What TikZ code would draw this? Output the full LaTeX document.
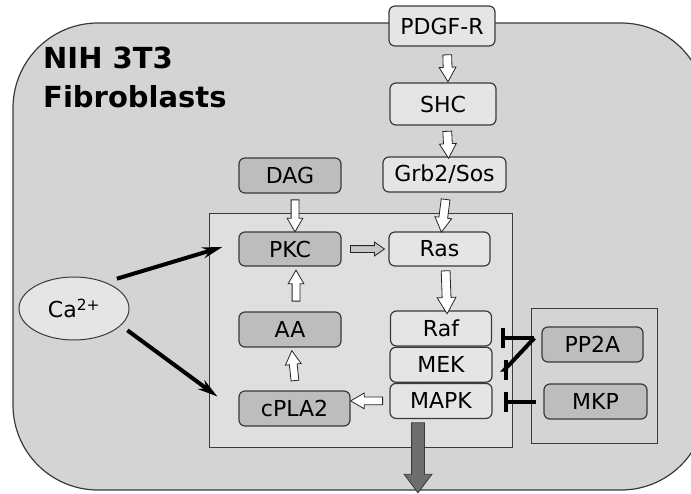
\documentclass[tikz,border=0pt]{standalone}
\usepackage{fontspec}
\setmainfont{DejaVu Sans}
\usepackage{tikz}
\usetikzlibrary{positioning, shapes.geometric, shapes.arrows, arrows.meta}
\definecolor{cellgray}{HTML}{D4D4D4}
\definecolor{panelgray}{HTML}{DFDFDF}
\definecolor{boxlight}{HTML}{E5E5E5}
\definecolor{boxdark}{HTML}{BDBDBD}
\definecolor{edgegray}{HTML}{3A3A3A}
\tikzset{every node/.append style={font=\fontsize{22}{26}\selectfont}}

\begin{document}
\begin{tikzpicture}[x=1pt, y=-1pt,
    box/.style={draw=edgegray, line width=1.2pt, rounded corners=6pt, inner sep=0pt, minimum width=102pt, minimum height=35pt},
    lightbox/.style={box, fill=boxlight},
    darkbox/.style={box, fill=boxdark},
    flow/.style={single arrow, draw=black!85, fill=white, line width=0.8pt, inner xsep=0pt, inner ysep=4pt, minimum width=0pt,
        single arrow head extend=4pt, single arrow tip angle=60, sloped, allow upside down, minimum height=#1},
    caarrow/.style={line width=4pt, -{Stealth[length=20pt, width=11pt]}},
    inhib/.style={line width=4pt, -{Bar[width=20pt]}}]
    \useasboundingbox (0,0) rectangle (691,493);
    \clip (0,0) rectangle (691,493);
    % cell and panels
    \draw[edgegray, fill=cellgray, line width=1.2pt, rounded corners=85pt] (13,23) rectangle (706,490);
    \node[anchor=base west, inner sep=0pt, font=\bfseries\fontsize{29}{35}\selectfont] (title1) at (43,68) {NIH 3T3};
    \node[anchor=base west, inner sep=0pt, font=\bfseries\fontsize{29}{35}\selectfont] (title2) at (43,107) {Fibroblasts};
    \draw[edgegray, fill=panelgray, line width=1pt] (209,213) rectangle (512,447);
    \draw[edgegray, fill=cellgray, line width=1pt] (531,308) rectangle (657,443);

    % receptor branch
    \node[lightbox, minimum width=106pt, minimum height=40pt] (pdgf) at (442,26) {PDGF-R};
    \node[lightbox, minimum width=106pt, minimum height=42pt] (shc) at (443,104) {SHC};
    \node[lightbox, minimum width=123pt] (grb) at (444.5,174.5) {Grb2/Sos};
    \node[lightbox, minimum width=101pt, minimum height=34pt] (ras) at (439.5,249) {Ras};
    \node[lightbox, minimum width=101pt] (raf) at (441,328.5) {Raf};
    \node[lightbox, below=0pt of raf] (mek) {MEK};
    \node[lightbox, below=0pt of mek] (mapk) {MAPK};

    % lipid branch
    \node[darkbox] (dag) at (290,175.5) {DAG};
    \node[darkbox, minimum height=34pt] (pkc) at (290,249) {PKC};
    \node[darkbox] (aa) at (290,329.5) {AA};
    \node[darkbox, minimum width=111pt] (cpla) at (294.5,408.5) {cPLA2};

    % phosphatases
    \node[darkbox, minimum width=101pt] (pp2a) at (592.5,344.5) {PP2A};
    \node[darkbox, minimum width=103pt] (mkp) at (595.5,401.5) {MKP};

    \node[ellipse, draw=edgegray, fill=boxlight, line width=1pt, minimum width=110pt, minimum height=63pt] (ca) at (74,308.5) {Ca\textsuperscript{2+}};

    % hollow arrows
    \path ([xshift=5pt]pdgf.south) -- node[flow=27]{} ([xshift=5pt]shc.north);
    \path ([xshift=4pt]shc.south) -- node[flow=27]{} ([xshift=4pt]grb.north);
    \path ([xshift=2pt]grb.south) -- node[flow=33]{} ([xshift=2pt]ras.north);
    \path ([xshift=6pt]ras.south) -- node[flow=43, single arrow head extend=5pt]{} ([xshift=6pt]raf.north);
    \path ([xshift=5pt]dag.south) -- node[flow=32, inner ysep=3.5pt]{} ([xshift=5pt]pkc.north);
    \path ([xshift=6pt]aa.north) -- node[flow=31, inner ysep=3.5pt]{} ([xshift=6pt]pkc.south);
    \path ([xshift=1.5pt]cpla.north) -- node[flow=30, inner ysep=3.5pt]{} ([xshift=1.5pt]aa.south);
    \path (mapk.west) -- node[flow=32, inner ysep=3.5pt]{} (mapk.west -| cpla.east);
    \path (pkc.east) -- node[flow=34, fill=boxdark!85, inner ysep=3pt, single arrow head extend=3.5pt, single arrow tip angle=70]{} (pkc.east -| ras.west);

    % MAPK output
    \coordinate (mapkout) at (418,418);
    \coordinate (nucleus) at (418,489);
    \path (mapkout) -- node[flow=70, fill=black!57, draw=edgegray, inner ysep=6pt, single arrow head extend=7.5pt, single arrow tip angle=74]{} (nucleus);

    % calcium
    \draw[caarrow, shorten <=12pt] (ca.40) -- ([xshift=-16pt, yshift=2pt]pkc.west);
    \draw[caarrow, shorten <=8pt] (ca.-20) -- ([xshift=-21pt, yshift=12pt]cpla.west);

    % inhibition
    \coordinate (pp2aout) at ([xshift=-7pt, yshift=6.5pt]pp2a.west);
    \draw[inhib] (pp2aout) -- ([xshift=9pt]raf.east |- pp2aout);
    \draw[inhib] (pp2aout) -- ([xshift=12pt, yshift=-5pt]mek.east) -- ++(-0.5,0);
    \draw[inhib] ([xshift=-7pt]mkp.west) -- ([xshift=11pt]mapk.east |- mkp.west);
\end{tikzpicture}
\end{document}
